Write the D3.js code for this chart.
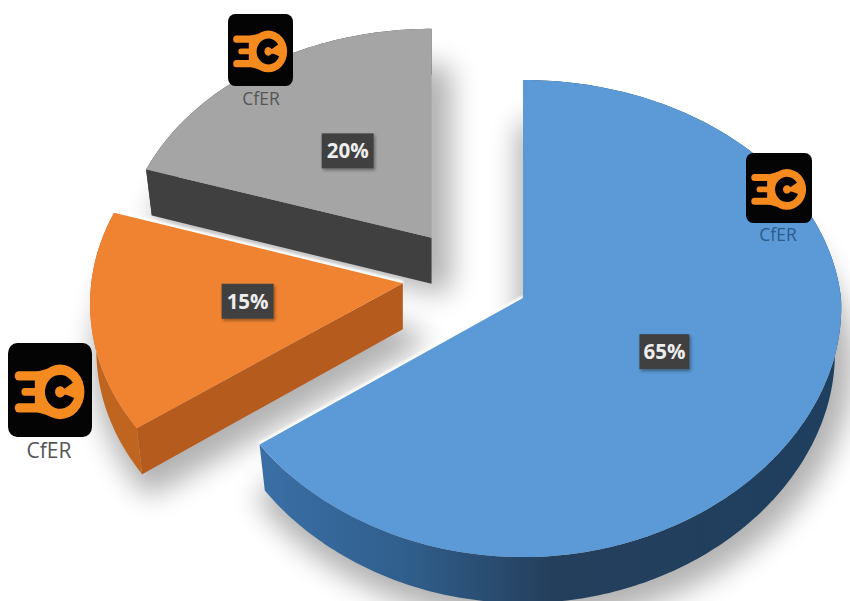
<!DOCTYPE html>
<html>
<head>
<meta charset="utf-8">
<style>
  html, body { margin: 0; padding: 0; background: #fff; }
  svg { display: block; }
</style>
<script src="https://cdn.jsdelivr.net/npm/d3@7/dist/d3.min.js"></script>
</head>
<body>
<script>
// Chart data
const categories = ["Blue share", "Orange share", "Gray share"];
const shareValues = [65, 15, 20];
const shareLabels = ["65%", "15%", "20%"];
const brandName = "CfER";

const width = 850, height = 601;

// Perspective model of the pie disc: unit-circle coordinates to page pixels.
const view = { cx: 523, cy: 298, ax: 318, ay: 236.8, tilt: -0.086, depth: 46, taper: 0.98 };

const xPage = d3.scaleLinear().domain([0, 1]).range([view.cx, view.cx + 1]);
const yPage = d3.scaleLinear().domain([0, 1]).range([view.cy, view.cy + 1]);
const yOf = v => yPage(view.ay * v / (1 + view.tilt * v));
const xOfApex = ex => xPage(view.ax * ex[0] / (1 + view.tilt * ex[1]));

// Horizontal reach of the rim at a given disc position: the near side widens by its own rate.
const rimX = (s, a, radius) => {
  const v = s.explode[1] - Math.cos(a);
  const t = v > 0 ? s.nearTilt : view.tilt;
  return view.ax * radius * Math.sin(a) / (1 + t * v);
};
const topPoint = (s, a, radius) => [xOfApex(s.explode) + rimX(s, a, radius), yOf(s.explode[1] - Math.cos(a))];
const basePoint = (s, a, radius) => [
  xOfApex(s.explode) + rimX(s, a, radius) * view.taper,
  yOf(s.explode[1] - Math.cos(a)) + view.depth
];

// Per-slice styling and the way each slice is pulled out of the pie.
const sliceStyle = [
  { top: "#5b9ad6", side: "url(#blueSide)", cut: "#2f5f8f", explode: [0, 0], radius: 1, nearTilt: -0.04,
    shadow: [6, 8], spread: 24, halo: true,
    logo: { x: 746, y: 153, w: 66, h: 70 }, text: { x: 778, y: 241, size: 17.5, fill: "#2c5c8c" } },
  { top: "#f08331", side: "#c0651f", cut: "#b45b1d", explode: [-0.38, -0.063], radius: 0.985, nearTilt: -0.09,
    shadow: [8, 10], spread: 22, halo: true,
    logo: { x: 8, y: 343, w: 84, h: 94 }, text: { x: 49, y: 458, size: 21, fill: "#555" } },
  { top: "#a5a5a5", side: "#404040", cut: "#404040", explode: [-0.294, -0.26], radius: 0.99, nearTilt: -0.04,
    shadow: [10, 0], spread: 20, halo: false,
    logo: { x: 228, y: 14, w: 65, h: 72 }, text: { x: 261, y: 105, size: 17.5, fill: "#555" } }
];

const pie = d3.pie().sort(null).value(d => d);
const arcs = pie(shareValues);

const toPath = d3.line();
const sampleArc = (d, s, map) => {
  const n = Math.ceil((d.endAngle - d.startAngle) * 60);
  return d3.range(n + 1).map(i =>
    map(s, d.startAngle + (d.endAngle - d.startAngle) * i / n, s.radius));
};

const svg = d3.select("body").append("svg").attr("width", width).attr("height", height);
const defs = svg.append("defs");

defs.append("filter").attr("id", "softShadow")
  .attr("x", "-30%").attr("y", "-30%").attr("width", "160%").attr("height", "160%")
  .append("feGaussianBlur").attr("stdDeviation", 14);
defs.append("filter").attr("id", "edgeGlow")
  .attr("filterUnits", "userSpaceOnUse").attr("x", 0).attr("y", 0).attr("width", width).attr("height", height)
  .append("feGaussianBlur").attr("stdDeviation", 1.2);
const boxShadow = defs.append("filter").attr("id", "boxShadow")
  .attr("x", "-20%").attr("y", "-20%").attr("width", "150%").attr("height", "150%");
boxShadow.append("feDropShadow").attr("dx", 1.5).attr("dy", 2).attr("stdDeviation", 1.5)
  .attr("flood-color", "#000").attr("flood-opacity", 0.35);

const blueSide = defs.append("linearGradient").attr("id", "blueSide")
  .attr("gradientUnits", "userSpaceOnUse")
  .attr("x1", 263).attr("x2", 842).attr("y1", 0).attr("y2", 0);
[[0, "#3a6fa6"], [0.25, "#305e8c"], [0.5, "#243f5c"], [1, "#1f3f5f"]].forEach(([o, c]) =>
  blueSide.append("stop").attr("offset", o).attr("stop-color", c));

// The emblem: black tile, orange ring and three prongs, in a 100-unit box.
const logo = defs.append("symbol").attr("id", "emblem")
  .attr("viewBox", "0 0 100 100").attr("preserveAspectRatio", "none");
logo.append("rect").attr("width", 100).attr("height", 100).attr("rx", 11).attr("fill", "#050404");
const emblemOrange = "#f58a1f";
logo.append("circle").attr("cx", 62).attr("cy", 52).attr("r", 29).attr("fill", emblemOrange);
[[35, 13, 10], [52, 20, 8], [69, 13, 10]].forEach(([y, x, w]) =>
  logo.append("line").attr("x1", x).attr("x2", 46).attr("y1", y).attr("y2", y)
    .attr("stroke", emblemOrange).attr("stroke-width", w).attr("stroke-linecap", "round"));
logo.append("path").attr("d", "M32,31 L48,27 L48,77 L32,73 Z").attr("fill", emblemOrange);
logo.append("path").attr("transform", "translate(62,52)")
  .attr("d", d3.arc().innerRadius(6).outerRadius(18)
    .startAngle(Math.PI * 0.62).endAngle(Math.PI * 2.32)())
  .attr("fill", "#050404");
logo.append("rect").attr("x", 62).attr("y", 49).attr("width", 24).attr("height", 6).attr("fill", emblemOrange);

// Painted back to front: gray, orange, then the large blue slice.
const paintOrder = [2, 1, 0];

paintOrder.forEach(i => {
  const d = arcs[i], s = sliceStyle[i];
  const g = svg.append("g").attr("class", "slice").attr("data-name", categories[i]);

  const topArc = sampleArc(d, s, topPoint);
  const baseArc = sampleArc(d, s, basePoint);
  const apexX = xOfApex(s.explode);
  const apexTop = [apexX, yOf(s.explode[1])];
  const apexBase = [apexX, yOf(s.explode[1]) + view.depth];

  // Soft cast shadow under the slice
  g.append("path").attr("d", toPath([apexBase, ...baseArc]) + "Z")
    .attr("fill", "#000").attr("stroke", "#000").attr("stroke-width", s.spread)
    .attr("stroke-linejoin", "round").attr("opacity", 0.3)
    .attr("transform", `translate(${s.shadow[0]},${s.shadow[1]})`)
    .attr("filter", "url(#softShadow)");

  // Thin bright line along the closing edge
  if (s.halo) {
    g.append("path").attr("d", toPath([apexTop, topArc[topArc.length - 1]]))
      .attr("fill", "none").attr("stroke", "#fff").attr("stroke-width", 5)
      .attr("filter", "url(#edgeGlow)");
  }

  // Outer rim of the slice
  g.append("path").attr("d", toPath([...topArc, ...baseArc.slice().reverse()]) + "Z")
    .attr("fill", s.side);

  // Cut wall that faces the viewer, running from the opening edge to the apex
  if (i !== 0) {
    g.append("path").attr("d", toPath([topArc[0], apexTop, apexBase, baseArc[0]]) + "Z")
      .attr("fill", s.cut);
  }

  // Top surface
  g.append("path").attr("d", toPath([apexTop, ...topArc]) + "Z").attr("fill", s.top);
});

// Percentage tags and emblems sit above all slices.
paintOrder.forEach(i => {
  const d = arcs[i], s = sliceStyle[i], ex = s.explode;
  const mid = (d.startAngle + d.endAngle) / 2;
  const lx = xOfApex(ex) + rimX(s, mid, 0.49);
  const ly = yOf(ex[1] - 0.49 * Math.cos(mid));
  const boxW = i === 0 ? 50 : 52, boxH = 35;
  svg.append("rect").attr("x", lx - boxW / 2).attr("y", ly - boxH / 2)
    .attr("width", boxW).attr("height", boxH)
    .attr("fill", "#404040").attr("filter", "url(#boxShadow)");
  svg.append("text").attr("x", lx).attr("y", ly + 7.5)
    .attr("text-anchor", "middle")
    .attr("font-family", "'Open Sans', sans-serif").attr("font-weight", 700)
    .attr("font-size", 20.5).attr("fill", "#eeeeee")
    .text(shareLabels[i]);

  svg.append("use").attr("href", "#emblem")
    .attr("x", s.logo.x).attr("y", s.logo.y)
    .attr("width", s.logo.w).attr("height", s.logo.h);
  svg.append("text").attr("x", s.text.x).attr("y", s.text.y)
    .attr("text-anchor", "middle")
    .attr("font-family", "'Open Sans', sans-serif")
    .attr("font-size", s.text.size).attr("fill", s.text.fill)
    .text(brandName);
});
</script>
</body>
</html>
